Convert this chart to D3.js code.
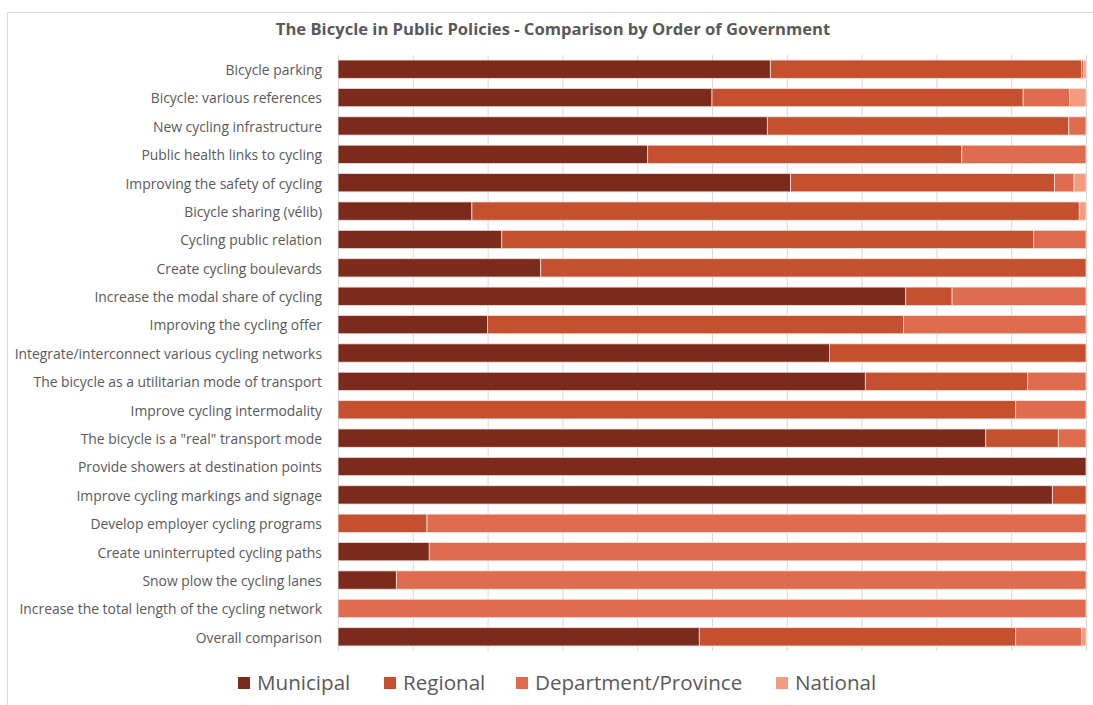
<!DOCTYPE html>
<html>
<head>
<meta charset="utf-8">
<script src="https://cdn.jsdelivr.net/npm/d3@7"></script>
<style>
  html, body { margin: 0; padding: 0; background: #ffffff; }
  svg { display: block; }
  text { font-family: "Open Sans", Lato, sans-serif; }
</style>
</head>
<body>
<svg id="chart" width="1093" height="705"></svg>
<script>
const title = "The Bicycle in Public Policies - Comparison by Order of Government";
const categories = [
  "Bicycle parking",
  "Bicycle: various references",
  "New cycling infrastructure",
  "Public health links to cycling",
  "Improving the safety of cycling",
  "Bicycle sharing (vélib)",
  "Cycling public relation",
  "Create cycling boulevards",
  "Increase the modal share of cycling",
  "Improving the cycling offer",
  "Integrate/interconnect various cycling networks",
  "The bicycle as a utilitarian mode of transport",
  "Improve cycling intermodality",
  "The bicycle is a \"real\" transport mode",
  "Provide showers at destination points",
  "Improve cycling markings and signage",
  "Develop employer cycling programs",
  "Create uninterrupted cycling paths",
  "Snow plow the cycling lanes",
  "Increase the total length of the cycling network",
  "Overall comparison"
];
const seriesNames = ["Municipal", "Regional", "Department/Province", "National"];
const municipal  = [57.8, 50.0, 57.4, 41.4, 60.5, 17.9, 21.9, 27.1, 75.9, 20.0, 65.7, 70.5, 0,    86.6, 100, 95.5, 0,    12.2, 7.8,  0,   48.3];
const regional   = [41.6, 41.6, 40.3, 42.0, 35.3, 81.2, 71.1, 72.9, 6.2,  55.6, 34.3, 21.7, 90.6, 9.7,  0,   4.5,  11.9, 0,    0,    0,   42.3];
const department = [0.3,  6.2,  2.3,  16.6, 2.6,  0,    7.0,  0,    17.9, 24.4, 0,    7.8,  9.4,  3.7,  0,   0,    88.1, 87.8, 92.2, 100, 8.8];
const national   = [0.3,  2.2,  0,    0,    1.6,  0.9,  0,    0,    0,    0,    0,    0,    0,    0,    0,   0,    0,    0,    0,    0,   0.6];
const colors = ["#7b2a1b", "#c5502f", "#e06c50", "#f39c80"];

const svg = d3.select("#chart");
const W = 1093, H = 705;
const m = { left: 338, right: 1086, top: 55, bottom: 651 };

// chart border
svg.append("rect").attr("x", 7.5).attr("y", 12.5).attr("width", W + 10).attr("height", H + 10)
  .attr("fill", "none").attr("stroke", "#d9d9d9").attr("stroke-width", 1);

svg.append("text").attr("x", 553).attr("y", 35).attr("text-anchor", "middle")
  .attr("font-size", 16.6).attr("font-weight", "bold").attr("fill", "#595959").text(title);

const rows = categories.map((c, i) => ({
  cat: c, Municipal: municipal[i], Regional: regional[i],
  "Department/Province": department[i], National: national[i]
}));
rows.forEach(r => {
  const t = seriesNames.reduce((s, k) => s + r[k], 0);
  seriesNames.forEach(k => r[k] = r[k] / t);
});

const x = d3.scaleLinear().domain([0, 1]).range([m.left, m.right]);
const y = d3.scaleBand().domain(categories).range([m.top, m.bottom]).paddingInner(0.355).paddingOuter(0.1775);

// gridlines
const grid = svg.append("g").attr("transform", `translate(0,${m.bottom})`)
  .call(d3.axisBottom(x).ticks(10).tickSize(-(m.bottom - m.top)).tickFormat(""));
grid.select(".domain").remove();
grid.selectAll("line").attr("stroke", "#d9d9d9").attr("stroke-width", 1);

const stack = d3.stack().keys(seriesNames)(rows);
svg.append("g").selectAll("g").data(stack).join("g")
  .attr("fill", (d, i) => colors[i])
  .selectAll("rect").data(d => d).join("rect")
  .attr("x", d => x(d[0]))
  .attr("y", d => y(d.data.cat))
  .attr("width", d => Math.max(0, x(d[1]) - x(d[0])))
  .attr("height", y.bandwidth())
  .attr("stroke", d => (d[1] - d[0]) > 0 ? "#f2e2dc" : "none")
  .attr("stroke-width", 0.8);

// category labels
const yAxis = svg.append("g").attr("transform", `translate(${m.left},0)`)
  .call(d3.axisLeft(y).tickSize(0).tickPadding(16));
yAxis.select(".domain").remove();
yAxis.selectAll("text").attr("font-size", 13.9).attr("fill", "#595959").attr("dy", "0.42em")
  .style("font-family", "'Open Sans', Lato, sans-serif");

// legend
const legendX = [238, 384, 516, 776];
const lg = svg.append("g").selectAll("g").data(seriesNames).join("g")
  .attr("transform", (d, i) => `translate(${legendX[i]},677)`);
lg.append("rect").attr("width", 12).attr("height", 12).attr("fill", (d, i) => colors[i]);
lg.append("text").attr("x", 19).attr("y", 6).attr("dy", "0.36em")
  .attr("font-size", 20.6).attr("fill", "#595959").text(d => d);
</script>
</body>
</html>
